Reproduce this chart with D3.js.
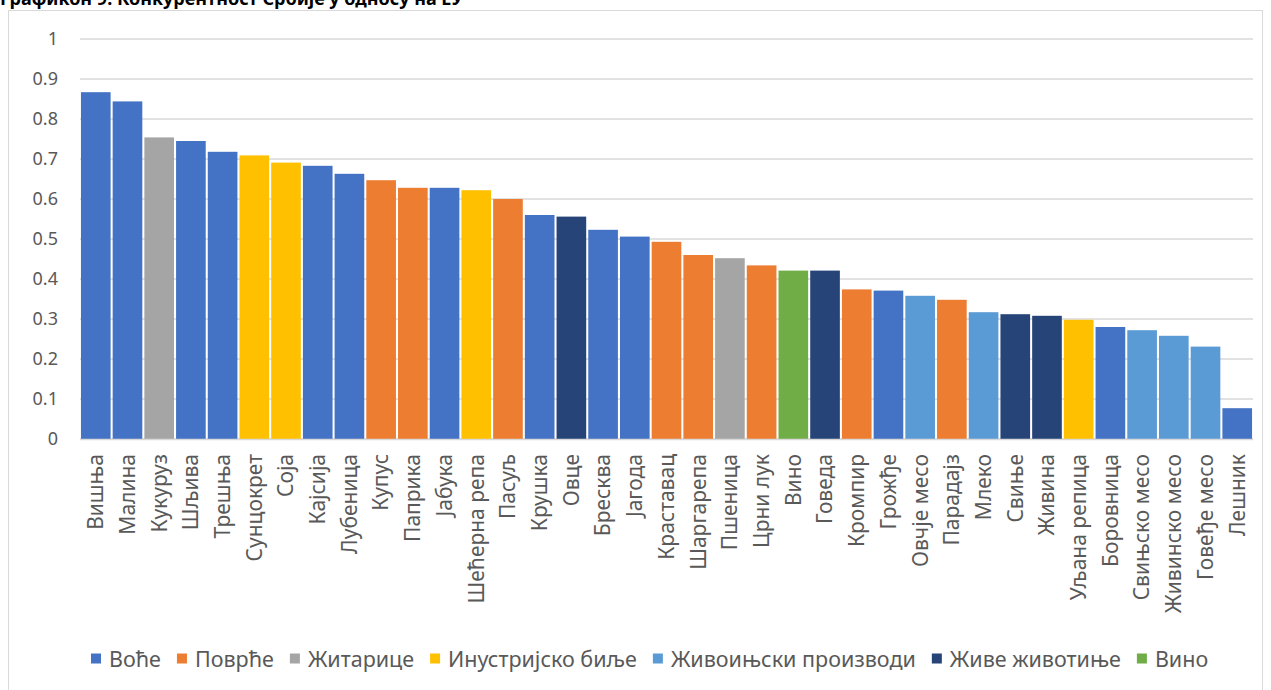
<!DOCTYPE html>
<html><head><meta charset="utf-8">
<script src="https://cdn.jsdelivr.net/npm/d3@7"></script>
<style>
html,body{margin:0;padding:0;background:#fff;overflow:hidden}
svg{display:block}
text{font-family:"Noto Sans","DejaVu Sans",sans-serif}
</style></head>
<body><svg id="c" width="1271" height="690"></svg>
<script>
const title = "Графикон 9. Конкурентност Србије у односу на ЕУ";
const categories = ["Вишња","Малина","Кукуруз","Шљива","Трешња","Сунцокрет","Соја","Кајсија","Лубеница","Купус","Паприка","Јабука","Шећерна репа","Пасуљ","Крушка","Овце","Бресква","Јагода","Краставац","Шаргарепа","Пшеница","Црни лук","Вино","Говеда","Кромпир","Грожђе","Овчје месо","Парадајз","Млеко","Свиње","Живина","Уљана репица","Боровница","Свињско месо","Живинско месо","Говеђе месо","Лешник"];
const values = [0.867,0.844,0.754,0.745,0.718,0.709,0.691,0.683,0.663,0.647,0.628,0.628,0.622,0.600,0.560,0.556,0.523,0.506,0.493,0.460,0.452,0.434,0.421,0.421,0.374,0.371,0.358,0.348,0.317,0.312,0.308,0.298,0.280,0.272,0.258,0.231,0.077];
const groupOf = ["Воће","Воће","Житарице","Воће","Воће","Инустријско биље","Инустријско биље","Воће","Воће","Поврће","Поврће","Воће","Инустријско биље","Поврће","Воће","Живе животиње","Воће","Воће","Поврће","Поврће","Житарице","Поврће","Вино","Живе животиње","Поврће","Воће","Живоињски производи","Поврће","Живоињски производи","Живе животиње","Живе животиње","Инустријско биље","Воће","Живоињски производи","Живоињски производи","Живоињски производи","Воће"];
const groups = ["Воће","Поврће","Житарице","Инустријско биље","Живоињски производи","Живе животиње","Вино"];
const groupColors = ["#4472C4","#ED7D31","#A5A5A5","#FFC000","#5B9BD5","#264478","#70AD47"];
const yTicks = [0,0.1,0.2,0.3,0.4,0.5,0.6,0.7,0.8,0.9,1];
const yTickLabels = ["0","0.1","0.2","0.3","0.4","0.5","0.6","0.7","0.8","0.9","1"];

const svg = d3.select("#c");
const color = d3.scaleOrdinal().domain(groups).range(groupColors);

// chart frame
svg.append("rect").attr("x",8.5).attr("y",10.5).attr("width",1254).attr("height",700)
  .attr("fill","#fff").attr("stroke","#d9d9d9").attr("stroke-width",1);

// title (partly cut at top, as in the source)
svg.append("text").attr("x",0).attr("y",5).attr("font-size",18).attr("font-weight","bold")
  .attr("fill","#000").text(title);

const x = d3.scaleBand().domain(categories).range([80,1253]).paddingInner(0.065).paddingOuter(0.03);
const y = d3.scaleLinear().domain([0,1]).range([439,39]);

// gridlines
svg.append("g").selectAll("line").data(yTicks).join("line")
  .attr("x1",80).attr("x2",1253).attr("y1",d=>y(d)).attr("y2",d=>y(d))
  .attr("stroke","#d9d9d9").attr("stroke-width",1.5);

// y axis labels
const yAxis = d3.axisLeft(y).tickValues(yTicks).tickFormat((d,i)=>yTickLabels[i]).tickSize(0).tickPadding(0);
const gy = svg.append("g").attr("transform","translate(58,0)").call(yAxis);
gy.select(".domain").remove();
gy.selectAll("text").attr("font-size",18).attr("fill","#595959").attr("font-family","'Noto Sans',sans-serif");

// bars
svg.append("g").selectAll("rect").data(categories).join("rect")
  .attr("x",d=>x(d)).attr("width",x.bandwidth())
  .attr("y",(d,i)=>y(values[i])).attr("height",(d,i)=>y(0)-y(values[i]))
  .attr("fill",(d,i)=>color(groupOf[i]));

// baseline
svg.append("line").attr("x1",80).attr("x2",1253).attr("y1",y(0)+0.5).attr("y2",y(0)+0.5)
  .attr("stroke","#d9d9d9").attr("stroke-width",1.5);

// x axis labels
const xAxis = d3.axisBottom(x).tickSize(0).tickPadding(0);
const gx = svg.append("g").attr("transform",`translate(0,${y(0)})`).call(xAxis);
gx.select(".domain").remove();
gx.selectAll("text").attr("font-size",21).attr("fill","#595959").attr("font-family","'Noto Sans',sans-serif")
  .attr("transform","rotate(-90)").attr("text-anchor","end").attr("dy","0.35em").attr("dx","-15").attr("x",0).attr("y",0);

// legend
const leg = svg.append("g").attr("transform","translate(91,659)");
let lx = 0;
groups.forEach((g,i)=>{
  const it = leg.append("g").attr("transform",`translate(${lx},0)`);
  it.append("rect").attr("x",0).attr("y",-5.5).attr("width",10).attr("height",10).attr("fill",groupColors[i]);
  const t = it.append("text").attr("x",18).attr("y",0).attr("dy","0.35em").attr("font-size",21.5).attr("fill","#595959").text(g);
  lx += 18 + t.node().getComputedTextLength() + 16;
});
</script></body></html>
